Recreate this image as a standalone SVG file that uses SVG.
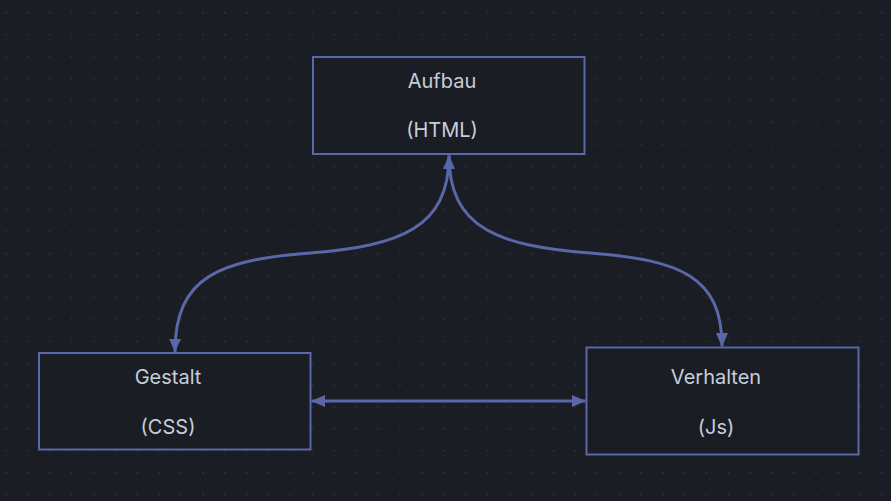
<svg xmlns="http://www.w3.org/2000/svg" width="891" height="501" viewBox="0 0 891 501">
<defs>
<pattern id="dots" x="5" y="12" width="21.9" height="21.9" patternUnits="userSpaceOnUse">
<rect x="0" y="0" width="1.5" height="1.5" fill="#32353c"/>
</pattern>
<marker id="arr" viewBox="0 0 14 14" refX="13.5" refY="7" markerWidth="14" markerHeight="14" markerUnits="userSpaceOnUse" orient="auto-start-reverse">
<path d="M0,1 L14,7 L0,13 Z" fill="#5a67a8"/>
</marker>
<style>
.box{fill:#1b1d24;stroke:#5a67a8;stroke-width:2}
.lbl{font-family:Inter,"Noto Sans","Liberation Sans",sans-serif;font-size:20px;fill:#c5cedb;text-anchor:middle}
.edge{fill:none;stroke:#5a67a8;stroke-width:3}
</style>
</defs>
<rect width="891" height="501" fill="#1b1d24"/>
<rect width="891" height="501" fill="url(#dots)"/>
<g id="connectors">
<path class="edge" d="M449,155.5 C449,228 400,246 310,253 C220,260 175,276 175,352" marker-start="url(#arr)" marker-end="url(#arr)"/>
<path class="edge" d="M449,155.5 C449,228 498,246 590,253 C680,260 722,276 722,346.5" marker-end="url(#arr)"/>
<path class="edge" d="M311.5,401 L585.5,401" marker-start="url(#arr)" marker-end="url(#arr)"/>
</g>
<g id="aufbau">
<rect class="box" x="313" y="57" width="271.5" height="97"/>
<text class="lbl" x="442" y="87.5">Aufbau</text>
<text class="lbl" x="442" y="137">(HTML)</text>
</g>
<g id="gestalt">
<rect class="box" x="39" y="353" width="271.5" height="96.5"/>
<text class="lbl" x="168" y="383.5">Gestalt</text>
<text class="lbl" x="168" y="433.5">(CSS)</text>
</g>
<g id="verhalten">
<rect class="box" x="586.5" y="347.5" width="272" height="107"/>
<text class="lbl" x="716" y="383.5">Verhalten</text>
<text class="lbl" x="716" y="433.5">(Js)</text>
</g>
</svg>
